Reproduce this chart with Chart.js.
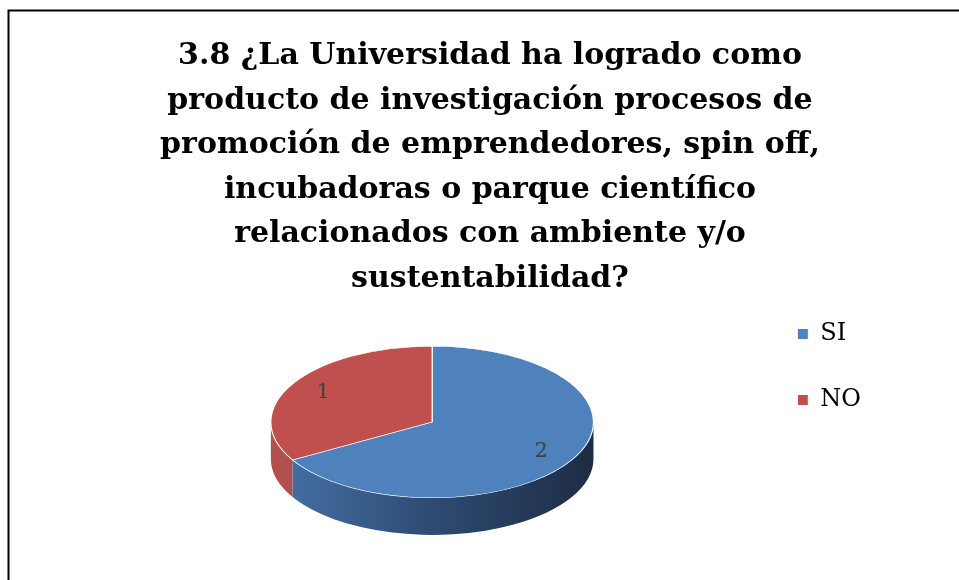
<!DOCTYPE html>
<html>
<head>
<meta charset="utf-8">
<script src="https://cdn.jsdelivr.net/npm/chart.js@4/dist/chart.umd.min.js"></script>
<style>
  html, body { margin: 0; padding: 0; background: #fff; }
</style>
</head>
<body>
<canvas id="pie" width="959" height="580"></canvas>
<script>
// data
const categories = ['SI', 'NO'];
const counts = [2, 1];
const titleLines = [
  '3.8 ¿La Universidad ha logrado como',
  'producto de investigación procesos de',
  'promoción de emprendedores, spin off,',
  'incubadoras o parque científico',
  'relacionados con ambiente y/o',
  'sustentabilidad?'
];
const sliceColors = ['#4f81bd', '#c0504d'];
// side wall gradients, left -> right
const sideColors = [
  ['#4673a8', '#2e4b72', '#1d2c44'],
  ['#b4514e', '#923a38', '#6e2a29']
];

// 3d look
const STRETCH = 1.14;   // horizontal radius vs chart radius
const TILT = 0.47;      // vertical / horizontal radius
const DEPTH = 0.23;     // side height vs horizontal radius
const LABEL_POS = 0.78;

function geom(chart) {
  const arcs = chart.getDatasetMeta(0).data;
  const r = arcs[0].outerRadius;
  const rx = r * STRETCH;
  return { arcs, cx: arcs[0].x, cy: arcs[0].y, r, rx, ry: rx * TILT, depth: rx * DEPTH };
}

const frame = {
  id: 'frame',
  beforeDraw(chart) {
    const { ctx } = chart;
    ctx.save();
    ctx.strokeStyle = '#000';
    ctx.lineWidth = 2;
    ctx.strokeRect(8.5, 10.5, 1200, 1200);
    ctx.restore();
  }
};

const pie3d = {
  id: 'pie3d',
  beforeDatasetsDraw(chart) {
    const { ctx } = chart;
    const g = geom(chart);
    // front half of the rim, 0..PI (canvas angles)
    g.arcs.forEach((arc, i) => {
      const grad = ctx.createLinearGradient(g.cx - g.rx, 0, g.cx + g.rx, 0);
      sideColors[i].forEach((c, k, a) => grad.addColorStop(k / (a.length - 1), c));
      [-2 * Math.PI, 0, 2 * Math.PI].forEach(k => {
        const lo = Math.max(arc.startAngle, k);
        const hi = Math.min(arc.endAngle, k + Math.PI);
        if (hi <= lo) return;
        ctx.beginPath();
        ctx.ellipse(g.cx, g.cy, g.rx, g.ry, 0, lo, hi);
        ctx.ellipse(g.cx, g.cy + g.depth, g.rx, g.ry, 0, hi, lo, true);
        ctx.closePath();
        ctx.fillStyle = grad;
        ctx.fill();
      });
    });
    // squash the library's flat pie into the top face
    ctx.save();
    ctx.translate(g.cx, g.cy);
    ctx.scale(g.rx / g.r, g.ry / g.r);
    ctx.translate(-g.cx, -g.cy);
  },
  afterDatasetsDraw(chart) {
    const { ctx } = chart;
    ctx.restore();
    const g = geom(chart);
    ctx.save();
    ctx.font = '21px "DejaVu Serif"';
    ctx.fillStyle = '#404040';
    ctx.textAlign = 'center';
    ctx.textBaseline = 'middle';
    g.arcs.forEach((arc, i) => {
      const mid = (arc.startAngle + arc.endAngle) / 2;
      const x = g.cx + Math.cos(mid) * g.rx * LABEL_POS;
      const y = g.cy + Math.sin(mid) * g.ry * LABEL_POS;
      ctx.fillText(String(counts[i]), x, y);
    });
    ctx.restore();
  }
};

new Chart(document.getElementById('pie'), {
  type: 'pie',
  plugins: [frame, pie3d],
  data: {
    labels: categories,
    datasets: [{
      data: counts,
      backgroundColor: sliceColors,
      borderColor: '#fff',
      borderWidth: 1,
      hoverOffset: 0,
      clip: false
    }]
  },
  options: {
    responsive: false,
    devicePixelRatio: 1,
    animation: false,
    events: [],
    layout: { padding: { left: 109, right: 88, top: 0, bottom: 16 } },
    plugins: {
      tooltip: { enabled: false },
      title: {
        display: true,
        text: titleLines,
        color: '#000',
        font: { family: 'DejaVu Serif', weight: 'bold', size: 30, lineHeight: 44.5 / 30 },
        padding: { top: 34, bottom: -21 }
      },
      legend: {
        position: 'right',
        align: 'start',
        fullSize: false,
        labels: {
          color: '#000',
          font: { family: 'DejaVu Serif', size: 24 },
          boxWidth: 11,
          boxHeight: 11,
          padding: 42
        }
      }
    }
  }
});
</script>
</body>
</html>
